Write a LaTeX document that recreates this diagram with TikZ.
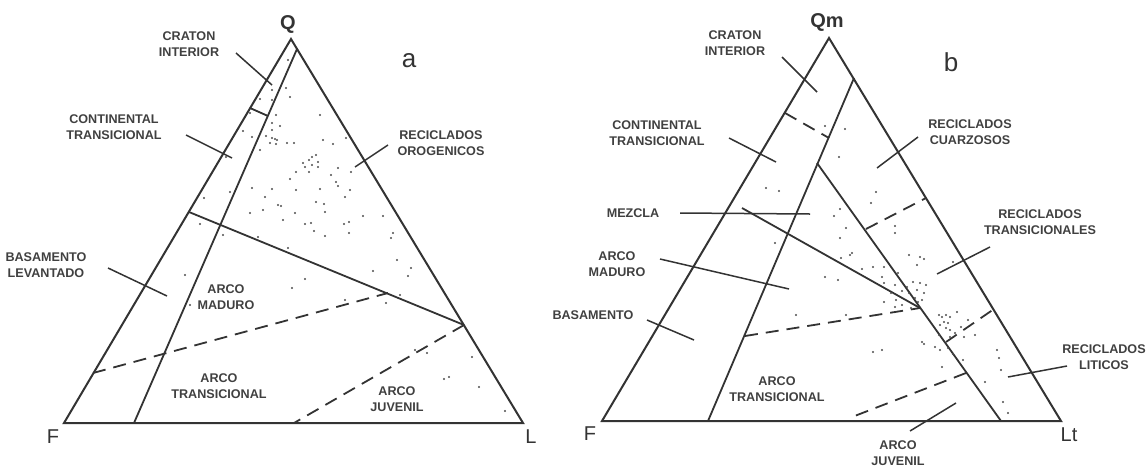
\documentclass[tikz,border=0pt]{standalone}
\usepackage{fontspec}
\setmainfont{Liberation Sans}
\usetikzlibrary{positioning}

\begin{document}
\begin{tikzpicture}[x=0.5pt, y=-0.5pt]
            \tikzset{
                side/.style = {line width=1pt, draw=black!80, line join=miter},
                bound/.style = {line width=0.9pt, draw=black!80},
                dashbound/.style = {bound, dash pattern=on 6.5pt off 4pt},
                leader/.style = {line width=0.75pt, draw=black!80},
                field/.style = {font=\fontsize{6.3}{8}\selectfont\bfseries, text=black!75,
                                align=center, inner sep=0pt},
                corner/.style = {font=\fontsize{10}{11}\selectfont, text=black!80, inner sep=0pt},
                panel/.style = {font=\fontsize{13}{14}\selectfont, text=black!80, inner sep=0pt},
                datum/.style = {fill=black!70, draw=none}
            }
            \useasboundingbox (0,0) rectangle (1146,467);

            % 三角形 a
            \coordinate (Qa) at (291,39);
            \coordinate (Fa) at (64,423);
            \coordinate (La) at (523,423);
            \draw [side] (Qa) -- (Fa) -- (La) -- cycle;
            \node [corner, font=\fontsize{10}{11}\selectfont\bfseries] (Qlab) at (288,24) {Q};
            \node [corner] (Flab) at (53,437) {F};
            \node [corner] (Llab) at (531,437) {L};
            \node [panel] (alab) at (409,61) {a};

            % 界线 a
            \coordinate (a1) at (297,49);
            \coordinate (a2) at (134,423);
            \coordinate (a3) at (250,108);
            \coordinate (a4) at (268,116);
            \coordinate (a5) at (189,212);
            \coordinate (a6) at (464,325);
            \coordinate (a7) at (93,373);
            \coordinate (a8) at (388,293);
            \coordinate (a9) at (294,423);
            \draw [bound] (a1) -- (a2);
            \draw [bound] (a3) -- (a4);
            \draw [bound] (a5) -- (a6);
            \draw [dashbound] (a7) -- (a8);
            \draw [dashbound] (a6) -- (a9);

            % 区域名 a
            \node [field] (crata) at (189,44) {CRATON\\INTERIOR};
            \node [field] (conta) at (114,127) {CONTINENTAL\\TRANSICIONAL};
            \node [field] (recia) at (441,143) {RECICLADOS\\OROGENICOS};
            \node [field] (basaa) at (46,265) {BASAMENTO\\LEVANTADO};
            \node [field] (madua) at (226,297) {ARCO\\MADURO};
            \node [field] (trana) at (219,386) {ARCO\\TRANSICIONAL};
            \node [field] (juvea) at (397,399) {ARCO\\JUVENIL};

            % 引线 a
            \coordinate (c1) at (236,53);   \coordinate (c2) at (272,85);
            \coordinate (c3) at (186,135);  \coordinate (c4) at (232,158);
            \coordinate (c5) at (388,145);  \coordinate (c6) at (355,167);
            \coordinate (c7) at (108,268);  \coordinate (c8) at (167,296);
            \draw [leader] (c1) -- (c2);
            \draw [leader] (c3) -- (c4);
            \draw [leader] (c5) -- (c6);
            \draw [leader] (c7) -- (c8);

            % 数据点 a
            \foreach \x/\y in {288/60, 272/90, 286/88, 290/97, 260/99, 272/100, 276/115, 320/115,
                               250/113, 272/123, 280/126, 272/130, 243/131, 252/137, 266/136, 272/138,
                               275/139, 277/140, 270/143, 276/144, 287/143, 294/143, 323/140, 333/144,
                               346/138, 260/150, 226/157, 312/157, 316/155, 309/160, 318/162, 303/163,
                               312/165, 305/167, 318/167, 296/172, 309/172, 331/175, 338/168, 351/172,
                               336/182, 290/179, 252/188, 272/189, 296/190, 320/189, 350/190, 230/192,
                               338/186, 345/197, 204/198, 265/197, 316/202, 324/204, 281/206, 250/213,
                               263/210, 278/205, 325/212, 295/213, 363/216, 383/216, 349/222, 344/224,
                               311/223, 283/220, 305/224, 200/224, 223/235, 258/237, 314/231, 325/236,
                               349/233, 393/233, 391/238, 288/248, 397/260, 411/268, 373/271, 408/276,
                               185/275, 305/279, 292/288, 345/300, 386/303, 400/295, 190/305, 415/350,
                               427/353, 472/357, 444/379, 449/377, 479/387, 505/411}
                \fill [datum] (\x,\y) circle (0.55pt);

            % 三角形 b
            \coordinate (Qb) at (829,38);
            \coordinate (Fb) at (602,421);
            \coordinate (Lb) at (1061,421);
            \draw [side] (Qb) -- (Fb) -- (Lb) -- cycle;
            \node [corner, font=\fontsize{10}{11}\selectfont\bfseries] (Qmlab) at (827,22) {Qm};
            \node [corner] (Fblab) at (590,434) {F};
            \node [corner] (Ltlab) at (1069,435) {Lt};
            \node [panel] (blab) at (951,62) {b};

            % 界线 b
            \coordinate (b1) at (854,78);
            \coordinate (b2) at (708,421);
            \coordinate (b3) at (817,163);
            \coordinate (b4) at (1001,421);
            \coordinate (b5) at (785,113);
            \coordinate (b6) at (829,138);
            \coordinate (b7) at (866,229);
            \coordinate (b8) at (926,198);
            \coordinate (b9) at (946,342);
            \coordinate (b10) at (994,309);
            \coordinate (b11) at (966,373);
            \coordinate (b12) at (852,417);
            \coordinate (b13) at (742,208);
            \coordinate (b14) at (920,308);
            \coordinate (b15) at (745,336);
            \draw [bound] (b1) -- (b2);
            \draw [bound] (b3) -- (b4);
            \draw [bound] (b13) -- (b14);
            \draw [dashbound] (b5) -- (b6);
            \draw [dashbound] (b7) -- (b8);
            \draw [dashbound] (b9) -- (b10);
            \draw [dashbound] (b11) -- (b12);
            \draw [dashbound] (b15) -- (b14);

            % 区域名 b
            \node [field] (cratb) at (735,43) {CRATON\\INTERIOR};
            \node [field] (contb) at (657,133) {CONTINENTAL\\TRANSICIONAL};
            \node [field] (cuarb) at (970,132) {RECICLADOS\\CUARZOSOS};
            \node [field] (mezcb) at (633,213) {MEZCLA};
            \node [field] (rtrab) at (1040,222) {RECICLADOS\\TRANSICIONALES};
            \node [field] (madub) at (617,264) {ARCO\\MADURO};
            \node [field] (basab) at (593,315) {BASAMENTO};
            \node [field] (tranb) at (777,389) {ARCO\\TRANSICIONAL};
            \node [field] (juveb) at (898,453) {ARCO\\JUVENIL};
            \node [field] (litib) at (1104,357) {RECICLADOS\\LITICOS};

            % 引线 b
            \coordinate (d1) at (782,57);    \coordinate (d2) at (817,92);
            \coordinate (d3) at (729,138);   \coordinate (d4) at (776,162);
            \coordinate (d5) at (918,137);   \coordinate (d6) at (877,168);
            \coordinate (d7) at (680,213);   \coordinate (d8) at (810,214);
            \coordinate (d9) at (990,247);   \coordinate (d10) at (937,274);
            \coordinate (d11) at (660,259);  \coordinate (d12) at (789,289);
            \coordinate (d13) at (647,320);  \coordinate (d14) at (694,340);
            \coordinate (d15) at (910,431);  \coordinate (d16) at (956,403);
            \coordinate (d17) at (1067,366); \coordinate (d18) at (1008,377);
            \draw [leader] (d1) -- (d2);
            \draw [leader] (d3) -- (d4);
            \draw [leader] (d5) -- (d6);
            \draw [leader] (d7) -- (d8);
            \draw [leader] (d9) -- (d10);
            \draw [leader] (d11) -- (d12);
            \draw [leader] (d13) -- (d14);
            \draw [leader] (d15) -- (d16);
            \draw [leader] (d17) -- (d18);

            % 数据点 b
            \foreach \x/\y in {825/126, 845/129, 839/157, 766/188, 779/191, 876/192, 871/203, 840/209,
                               834/216, 895/226, 846/228, 895/233, 775/243, 840/238, 852/253, 850/255,
                               909/255, 920/257, 924/259, 841/258, 862/269, 873/267, 884/267, 825/277,
                               838/280, 882/277, 898/273, 917/265, 953/262, 884/283, 895/285, 907/287,
                               913/282, 920/283, 926/285, 917/290, 924/293, 909/293, 902/291, 891/293,
                               896/300, 915/298, 918/302, 922/300, 884/302, 902/305, 911/308, 895/307,
                               939/315, 942/317, 946/315, 950/317, 944/322, 948/323, 940/325, 957/312,
                               946/328, 950/330, 961/327, 968/320, 939/335, 950/337, 955/333, 922/342,
                               924/344, 935/347, 940/350, 948/348, 953/354, 873/352, 882/350, 963/360,
                               997/350, 999/358, 796/315, 846/315, 942/367, 985/382, 1001/370, 1003/402,
                               1008/413, 964/337, 975/335}
                \fill [datum] (\x,\y) circle (0.55pt);

        \end{tikzpicture}
\end{document}
